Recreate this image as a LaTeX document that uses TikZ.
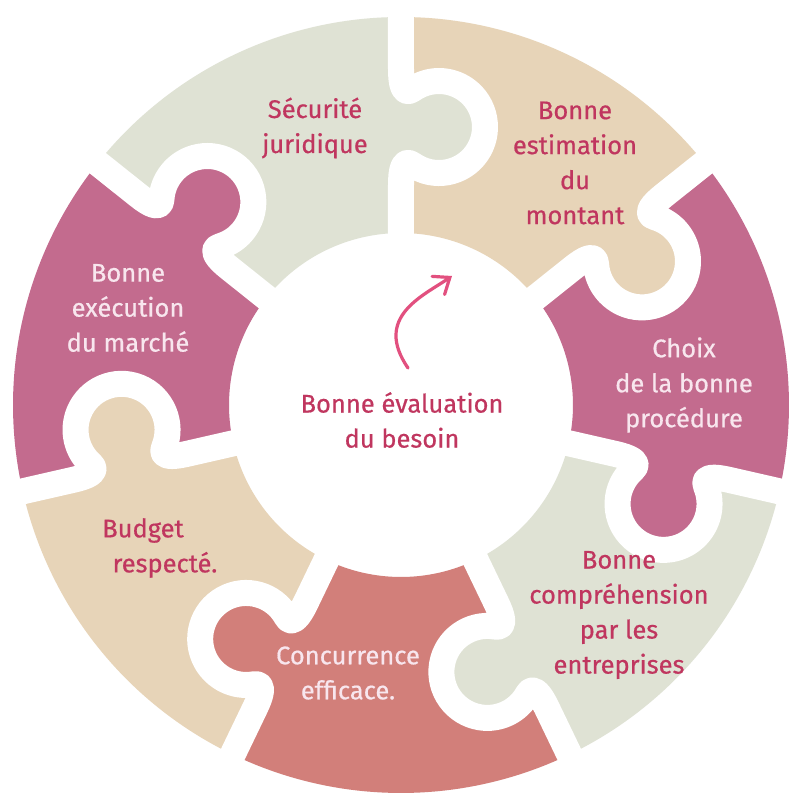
\documentclass[tikz,border=0pt]{standalone}
\usepackage{fontspec}
\setmainfont{Fira Sans}[UprightFeatures={FakeBold=0.6}]
\usetikzlibrary{arrows.meta}

\definecolor{sage}{HTML}{DFE2D4}
\definecolor{sand}{HTML}{E7D4B8}
\definecolor{mauve}{HTML}{C36B8E}
\definecolor{coral}{HTML}{D27F7A}
\definecolor{inkdark}{HTML}{C0365F}
\definecolor{inklight}{HTML}{F8E6EE}
\definecolor{arrowpink}{HTML}{E2507F}

% ring radii
\newcommand\rin{172}
\newcommand\rout{388}
% centre line of a tab along a radial seam (local frame: x radial, y counter-clockwise)
\newcommand\tabline{(220,0) .. controls (234,0) and (247,-2) .. (240.3,-11.6)
  arc[start angle=145,end angle=395,radius=46]
  .. controls (309,-2) and (322,0) .. (336,0)}
% annular sector between two angles
\newcommand\ringpiece[3]{%
  \fill[#3] (#1:\rin) -- (#1:\rout) arc[start angle=#1,end angle=#2,radius=\rout]
    -- (#2:\rin) arc[start angle=#2,end angle=#1,radius=\rin] -- cycle;}
% tab head, coloured like the piece it belongs to (closed slightly inside that piece)
\newcommand\tabfill[2]{\fill[#2,rotate=#1] \tabline -- (336,4) -- (220,4) -- cycle;}
% white seam with its tab outline
\newcommand\seam[1]{\draw[seamline,rotate=#1] (\rin-6,0) -- \tabline -- (\rout+6,0);}

\tikzset{
  seamline/.style={draw=white,line width=26pt,line join=round},
  darktext/.style={text=inkdark,align=center,font=\fontsize{25.5}{35}\selectfont},
  lighttext/.style={text=inklight,align=center,font=\fontsize{25.5}{35}\selectfont},
}

\begin{document}
\begin{tikzpicture}[x=1pt,y=1pt]
\useasboundingbox (-401,-393) rectangle (391,405);
\fill[white] (-401,-393) rectangle (391,405);

% the seven pieces
\ringpiece{90}{141.4286}{sage}
\ringpiece{141.4286}{192.8571}{mauve}
\ringpiece{192.8571}{244.2857}{sand}
\ringpiece{244.2857}{295.7143}{coral}
\ringpiece{295.7143}{347.1429}{sage}
\ringpiece{347.1429}{398.5714}{mauve}
\ringpiece{38.5714}{90}{sand}

% tabs, each pushed clockwise into the neighbouring piece
\tabfill{90}{sage}
\tabfill{141.4286}{mauve}
\tabfill{192.8571}{sand}
\tabfill{244.2857}{coral}
\tabfill{295.7143}{sage}
\tabfill{347.1429}{mauve}
\tabfill{38.5714}{sand}

% white seams between pieces
\seam{90}
\seam{141.4286}
\seam{192.8571}
\seam{244.2857}
\seam{295.7143}
\seam{347.1429}
\seam{38.5714}

% labels
\node[darktext] (securite) at (-86,277) {Sécurité\\juridique};
\node[darktext] (estimation) at (174,242) {Bonne\\estimation\\du\\montant};
\node[lighttext] (execution) at (-273,97) {Bonne\\exécution\\du marché};
\node[lighttext] (choix) at (283,20) {Choix\\de la bonne\\procédure};
\node[darktext] (budget) at (-236,-143) {Budget\hspace*{44pt}\\respecté.};
\node[lighttext] (concurrence) at (-53,-268) {Concurrence\\efficace.};
\node[darktext] (comprehension) at (218,-210) {Bonne\\compréhension\\par les\\entreprises};
\node[darktext] (besoin) at (1,-15) {Bonne évaluation\\du besoin};

% curved arrow in the centre
\coordinate (arrowtail) at (7,37);
\coordinate (arrowtip) at (51,129);
\draw[arrowpink,line width=3.2pt,line cap=round,
      -{Straight Barb[length=14pt,width=22pt,line cap=round]}]
  (arrowtail) .. controls (-28,88) and (22,109) .. (arrowtip);
\end{tikzpicture}
\end{document}
